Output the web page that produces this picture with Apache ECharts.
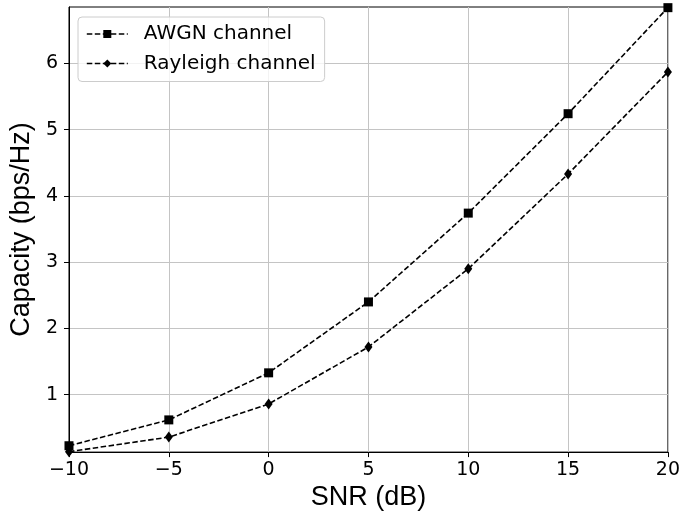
<!DOCTYPE html>
<html>
<head>
<meta charset="utf-8">
<script src="https://cdn.jsdelivr.net/npm/echarts@6.0.0/dist/echarts.min.js"></script>
<style>
  html, body { margin: 0; padding: 0; background: #fff; }
  #chart { width: 683px; height: 516px; }
</style>
</head>
<body>
<div id="chart"></div>
<script>
const snr = [-10, -5, 0, 5, 10, 15, 20];
const awgn = [0.23, 0.62, 1.33, 2.4, 3.74, 5.24, 6.84];
const rayleigh = [0.14, 0.36, 0.86, 1.72, 2.9, 4.33, 5.87];
const yTicks = [1, 2, 3, 4, 5, 6];

const tickFont = { fontFamily: "DejaVu Sans", fontSize: 19, color: "#000" };
const titleFont = { fontFamily: "Liberation Sans", fontSize: 27, color: "#000" };
const dash = [5.5, 2.5];

function pairs(ys) {
  return snr.map((x, i) => [x, ys[i]]);
}

const chart = echarts.init(document.getElementById("chart"));

chart.setOption({
  animation: false,
  backgroundColor: "#fff",
  grid: {
    left: 68, top: 7, right: 12, bottom: 59,
    show: true, borderColor: "#000", borderWidth: 1, backgroundColor: "transparent"
  },
  legend: {
    orient: "vertical",
    left: 78, top: 17,
    padding: [7, 9, 8, 8],
    itemWidth: 41, itemHeight: 10, itemGap: 9.5,
    backgroundColor: "rgba(255,255,255,0.8)",
    borderColor: "#cccccc", borderWidth: 1, borderRadius: 4,
    lineStyle: { type: dash, width: 1.6, color: "#000" },
    textStyle: { fontFamily: "DejaVu Sans", fontSize: 20, color: "#000", lineHeight: 20, padding: [0, 0, 0, 11] },
    data: ["AWGN channel", "Rayleigh channel"]
  },
  xAxis: {
    type: "value",
    min: -10, max: 20, interval: 5,
    name: "SNR (dB)", nameLocation: "middle", nameGap: 27,
    nameTextStyle: titleFont,
    axisLine: { onZero: false, lineStyle: { color: "#000", width: 1 } },
    axisTick: { show: true, inside: false, length: 5, lineStyle: { color: "#000" } },
    axisLabel: Object.assign({ margin: 8, formatter: v => String(v).replace("-", "\u2212") }, tickFont),
    splitLine: { show: true, lineStyle: { color: "#c4c4c4", width: 1 } }
  },
  yAxis: {
    type: "value",
    min: 0.134, max: 6.85,
    name: "Capacity (bps/Hz)", nameLocation: "middle", nameGap: 25,
    nameTextStyle: titleFont,
    axisLine: { show: true, onZero: false, lineStyle: { color: "#000", width: 1 } },
    axisTick: { show: true, inside: false, length: 5, customValues: yTicks, lineStyle: { color: "#000" } },
    axisLabel: Object.assign({ margin: 11, customValues: yTicks }, tickFont),
    splitLine: { show: true, lineStyle: { color: "#c4c4c4", width: 1 } }
  },
  series: [
    {
      name: "AWGN channel",
      type: "line",
      data: pairs(awgn),
      symbol: "rect", symbolSize: 9,
      itemStyle: { color: "#000" },
      lineStyle: { color: "#000", width: 1.6, type: dash }
    },
    {
      name: "Rayleigh channel",
      type: "line",
      data: pairs(rayleigh),
      symbol: "diamond", symbolSize: [8, 11],
      itemStyle: { color: "#000" },
      lineStyle: { color: "#000", width: 1.6, type: dash }
    }
  ]
});
</script>
</body>
</html>
